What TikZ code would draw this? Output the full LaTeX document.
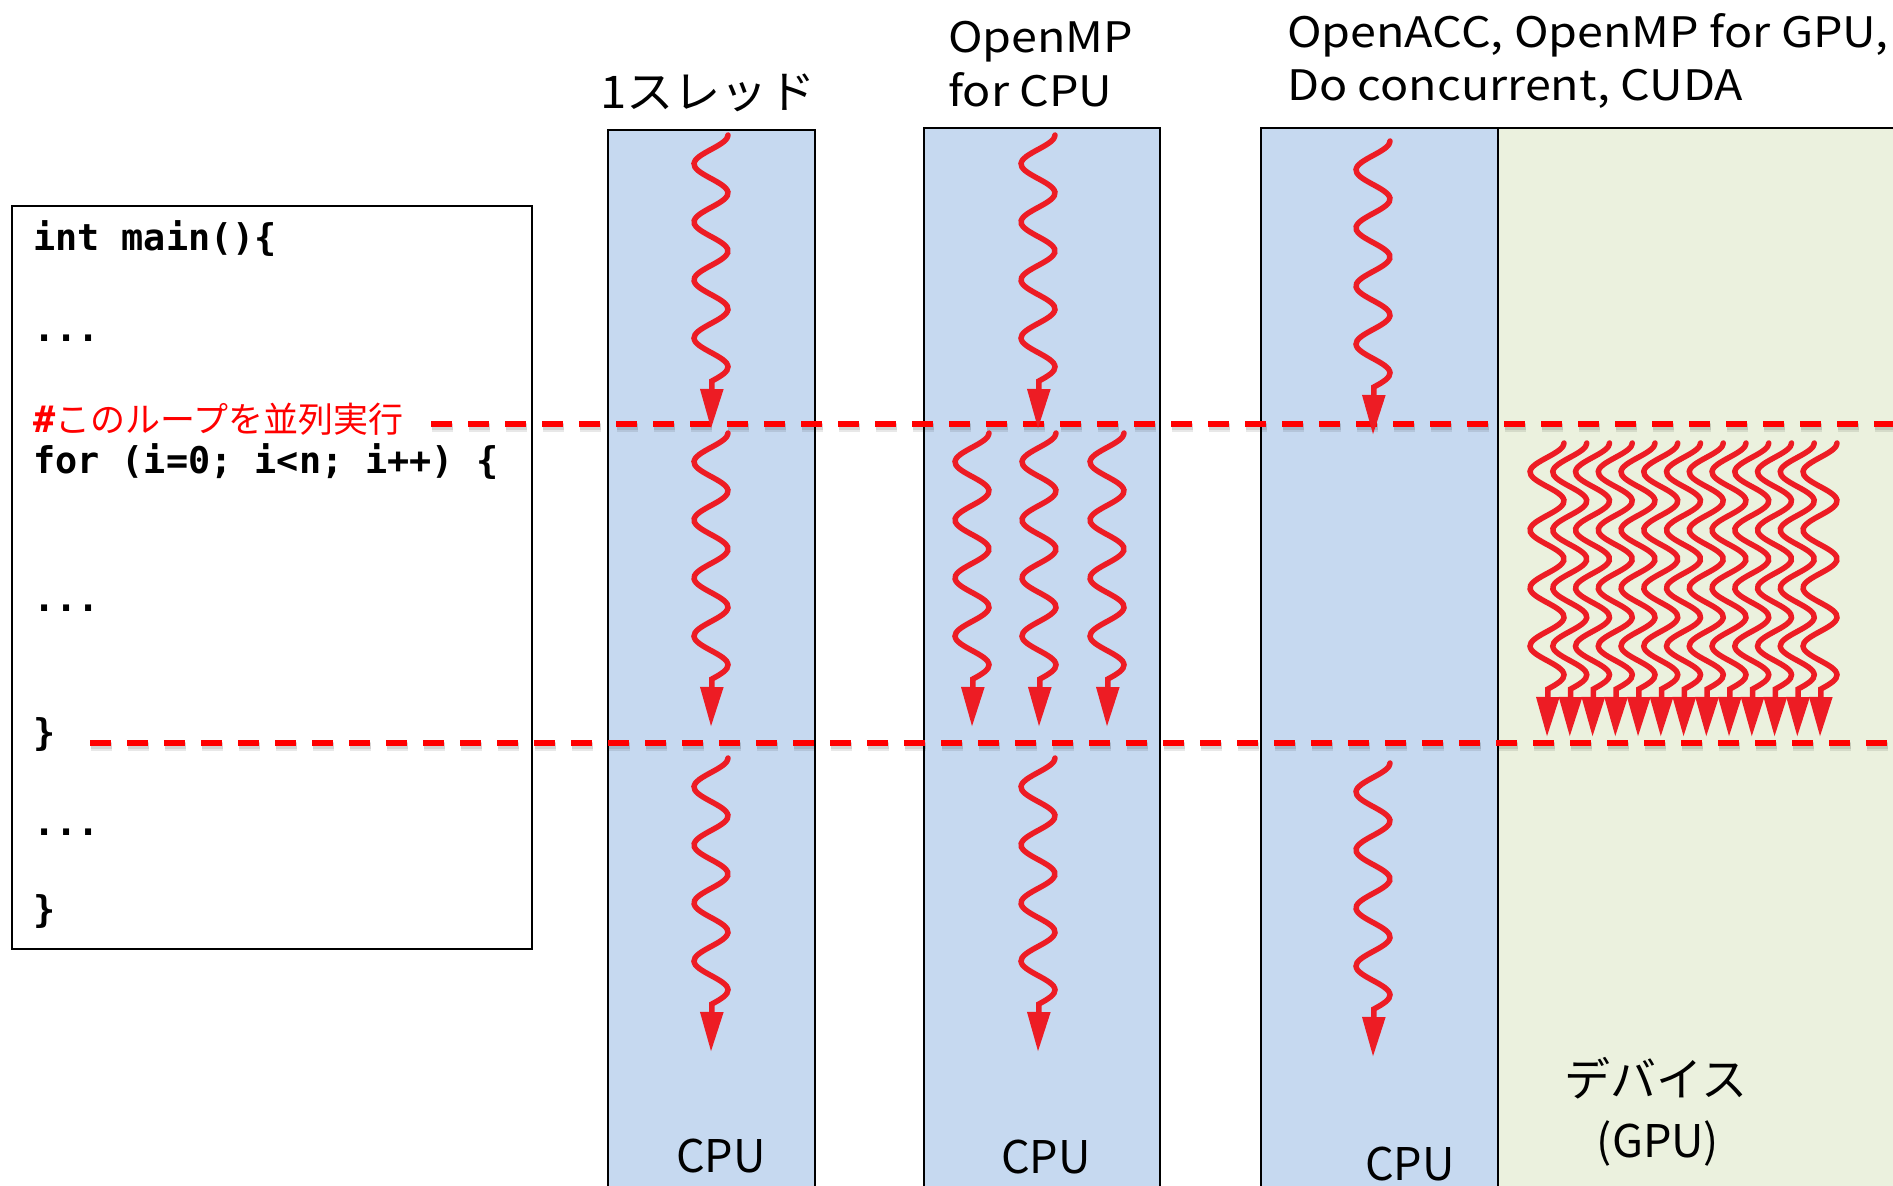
\documentclass[tikz,border=0pt]{standalone}
\usepackage{fontspec}
\setmainfont{Noto Sans CJK JP}
\newfontfamily\jpfont{Noto Sans CJK JP}
\newfontfamily\headfont{Noto Sans CJK JP}[FakeStretch=1.11]
\newfontfamily\titlefont{Noto Sans CJK JP}[FakeStretch=1.05]
\newfontfamily\codefont{DejaVu Sans Mono}
\usetikzlibrary{arrows.meta}

\definecolor{cpublue}{HTML}{C6D9F0}
\definecolor{gpugreen}{HTML}{EBF1DE}
\definecolor{threadred}{HTML}{ED1C24}
\definecolor{cutred}{HTML}{FF0000}

\tikzset{
  colbox/.style={draw=black, line width=2pt, fill=cpublue},
  devbox/.style={draw=black, line width=2pt, fill=gpugreen},
  codebox/.style={draw=black, line width=2pt, fill=white},
  codeline/.style={anchor=base west, inner sep=0pt, font=\codefont\bfseries\fontsize{36.8}{44}\selectfont},
  headline/.style={anchor=base west, inner sep=0pt, font=\headfont\fontsize{42}{54}\selectfont},
  unitlabel/.style={anchor=base, inner sep=0pt, font=\jpfont\fontsize{45}{54}\selectfont},
  cutline/.style={draw=cutred, line width=5.5pt, dash pattern=on 21pt off 16pt},
  cutshadow/.style={draw=black, opacity=0.09, line width=#1, dash pattern=on 21pt off 16pt},
  threadline/.style={draw=threadred, line width=5.5pt, line cap=round,
    -{Triangle[length=40pt,width=22pt]}},
  % one wavy thread of execution: half period 29, amplitude 17
  thread/.pic={
    \draw[threadline] plot[domain=0:246, samples=70, smooth]
      ({17*cos(\x*6.2069)}, \x) -- (0,294);
  }
}

\begin{document}
\begin{tikzpicture}[x=1pt, y=-1pt]
  \useasboundingbox (0,0) rectangle (1893,1186);
  \clip (0,0) rectangle (1893,1186);

  % execution columns
  \draw[colbox] (608,130) rectangle (815,1210);
  \draw[colbox] (924,128) rectangle (1160,1210);
  \draw[colbox] (1261,128) rectangle (1498,1210);
  \draw[devbox] (1498,128) rectangle (1910,1210);

  % source code
  \draw[codebox] (12,206) rectangle (532,949);
  \node[codeline] (c1) at (33,250) {int main()\{};
  \node[codeline] (c2) at (33,341) {...};
  \node[codeline, text=cutred] (c3) at (33,432)
    {\#{\jpfont\mdseries\fontsize{35}{42}\selectfont このループを並列実行}};
  \node[codeline] (c4) at (33,473) {for (i=0; i<n; i++) \{};
  \node[codeline] (c5) at (33,611) {...};
  \node[codeline] (c6) at (33,745) {\}};
  \node[codeline] (c7) at (33,835) {...};
  \node[codeline] (c8) at (33,922) {\}};

  % loop boundaries, with a soft drop shadow
  \coordinate (cutAs) at (431,424);
  \coordinate (cutAe) at (1893,424);
  \coordinate (cutBs) at (90,743);
  \coordinate (cutBe) at (1893,743);
  \foreach \w in {9pt,6pt} {
    \draw[cutshadow=\w] ([shift={(1,3)}]cutAs) -- ([shift={(1,3)}]cutAe);
    \draw[cutshadow=\w] ([shift={(1,3)}]cutBs) -- ([shift={(1,3)}]cutBe);
  }
  \draw[cutline] (cutAs) -- (cutAe);
  \draw[cutline] (cutBs) -- (cutBe);

  % column headings
  \node[headline, font=\titlefont\fontsize{45}{54}\selectfont] (h1) at (600,108) {1スレッド};
  \node[headline] (h2a) at (948,52) {OpenMP};
  \node[headline] (h2b) at (948,106) {for CPU};
  \node[headline] (h3a) at (1287,47) {OpenACC, OpenMP for GPU,};
  \node[headline] (h3b) at (1287,100) {Do concurrent, CUDA};

  % unit labels
  \node[unitlabel] (u1) at (721,1172) {CPU};
  \node[unitlabel] (u2) at (1046,1173) {CPU};
  \node[unitlabel] (u3) at (1410,1180) {CPU};
  \node[unitlabel, font=\jpfont\fontsize{46}{54}\selectfont] (u4) at (1656,1096) {デバイス};
  \node[unitlabel] (u5) at (1658,1157) {(GPU)};

  % single thread
  \pic (s1) at (711,135) {thread};
  \pic (s2) at (711,433) {thread};
  \pic (s3) at (711,758) {thread};

  % OpenMP threads
  \pic (m1) at (1038,135) {thread};
  \pic (m2) at (972,433) {thread};
  \pic (m3) at (1039,433) {thread};
  \pic (m4) at (1107,433) {thread};
  \pic (m5) at (1038,758) {thread};

  % host and device threads
  \pic (g1) at (1373,141) {thread};
  \pic (g2) at (1373,763) {thread};
  \foreach \i in {0,...,12} {
    \pic (d\i) at ({1547+22.75*\i},443) {thread};
  }
\end{tikzpicture}
\end{document}
